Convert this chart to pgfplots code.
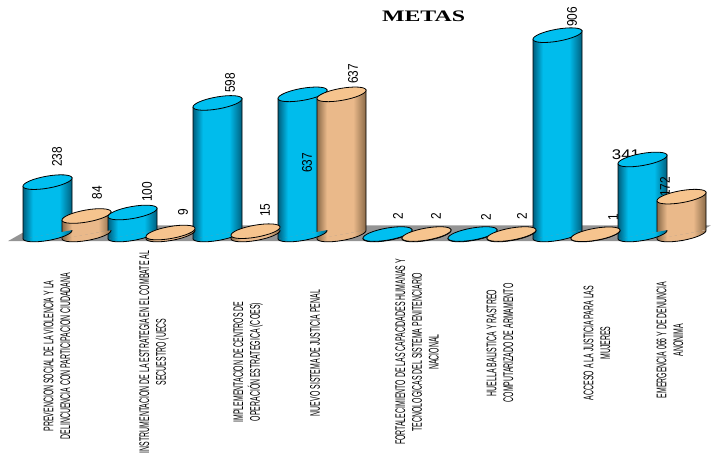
\documentclass[border=0pt]{standalone}
\usepackage{pgfplots}
\pgfplotsset{compat=1.18}
\usepackage{fontspec}
\setmainfont{Liberation Sans}
\newfontfamily\lblfont[FakeStretch=0.495]{Liberation Sans}
\newfontfamily\valfont[FakeStretch=0.85]{Liberation Sans}
\newfontfamily\widefont[FakeStretch=1.2]{Liberation Sans}
\newfontfamily\titlefont[FakeStretch=1.49]{Liberation Serif}

\definecolor{cylblue}{HTML}{00BCEC}
\definecolor{cylbluedk}{HTML}{005F7E}
\definecolor{cyltan}{HTML}{EAB98A}
\definecolor{cyltandk}{HTML}{8A6A48}
\definecolor{topblue}{HTML}{00BFF0}
\definecolor{toptan}{HTML}{F6C48E}

% stops 25..75 cover the path's box
\pgfdeclarehorizontalshading{bodyblue}{100bp}{color(0bp)=(cylbluedk); color(25bp)=(cylbluedk); color(35bp)=(cylblue); color(62bp)=(cylblue); color(75bp)=(cylbluedk); color(100bp)=(cylbluedk)}
\pgfdeclarehorizontalshading{bodytan}{100bp}{color(0bp)=(cyltandk); color(25bp)=(cyltandk); color(35bp)=(cyltan); color(62bp)=(cyltan); color(75bp)=(cyltandk); color(100bp)=(cyltandk)}

% tilted ends of a cylinder: whole top, lower half at the foot
\pgfdeclareplotmark{cylend}{%
  \pgftransformrotate{10}%
  \pgfpathellipse{\pgfpointorigin}{\pgfqpoint{24.9pt}{0pt}}{\pgfqpoint{0pt}{6pt}}%
  \pgfusepathqfillstroke}
\newcommand{\footmark}[2]{%
  \pgfdeclareplotmark{#1}{%
    \pgftransformrotate{10}%
    \pgfpathmoveto{\pgfqpoint{-24.9pt}{0pt}}%
    \pgfpatharc{180}{360}{24.9pt and 6pt}%
    \pgfshadepath{#2}{0}%
    \pgfusepath{stroke}}}
\footmark{footblue}{bodyblue}
\footmark{foottan}{bodytan}

% left edge, value, body shading, foot mark, top colour
\newcommand{\cyl}[5]{%
  \pgfmathsetmacro\xc{#1+24.5}%
  \pgfmathsetmacro\xr{#1+49}%
  \pgfmathsetmacro\yl{#2-20.5}%
  \pgfmathsetmacro\yr{#2+20.5}%
  \addplot[no markers, draw=black, line width=0.8pt, shade, shading=#3] coordinates {(#1,-20.5) (#1,\yl) (\xr,\yr) (\xr,20.5)};
  \addplot[only marks, mark=#4, mark options={draw=black, line width=0.8pt}] coordinates {(\xc,0)};
  \addplot[only marks, mark=cylend, mark options={draw=black, fill=#5, line width=0.8pt}] coordinates {(\xc,#2)};
}
\newcommand{\bcyl}[2]{\cyl{#1}{#2}{bodyblue}{footblue}{topblue}}
\newcommand{\tcyl}[2]{\cyl{#1}{#2}{bodytan}{foottan}{toptan}}

\begin{document}
\begin{tikzpicture}
\path[use as bounding box] (0,0) rectangle (711pt,455pt);
\begin{axis}[
    at={(0,0)}, anchor=south west,
    scale only axis,
    width=711pt, height=455pt,
    xmin=0, xmax=711,
    ymin=-1002.3, ymax=1065.9,
    hide axis,
    clip=false,
    every node/.append style={inner sep=0pt},
  ]
  % floor
  \addplot[no markers, draw=none, fill=black!42] coordinates {(8,-30) (683,-30) (711,42) (36,42)} --cycle;

  \bcyl{23}{238}
  \tcyl{62}{84}
  \bcyl{108}{100}
  \tcyl{146}{9}
  \bcyl{193}{598}
  \tcyl{231}{15}
  \bcyl{278}{637}
  \tcyl{317}{637}
  \bcyl{363}{2}
  \tcyl{402}{2}
  \bcyl{448}{2}
  \tcyl{487}{2}
  \bcyl{533}{906}
  \tcyl{571}{1}
  \bcyl{618}{341}
  \tcyl{657}{172}

  % y of a node = (234.5 - pixel row) / 0.22
  \node[font=\titlefont\bfseries\fontsize{16}{18}\selectfont] at (axis cs:423.5,993) {METAS};

  \begin{scope}[every node/.append style={rotate=90, font=\valfont\fontsize{14}{16}\selectfont}]
    \node at (axis cs:57,352) {238};
    \node at (axis cs:97,189) {84};
    \node at (axis cs:147,193) {100};
    \node at (axis cs:183,102) {9};
    \node at (axis cs:230,689) {598};
    \node at (axis cs:265,111) {15};
    \node at (axis cs:307,325) {637};
    \node at (axis cs:353,730) {637};
    \node at (axis cs:398,84) {2};
    \node at (axis cs:436,84) {2};
    \node at (axis cs:486,79) {2};
    \node at (axis cs:522,84) {2};
    \node at (axis cs:572,989) {906};
    \node at (axis cs:613,79) {1};
    \node at (axis cs:665,216) {172};
  \end{scope}
  \node[font=\widefont\fontsize{14}{16}\selectfont] at (axis cs:626,361) {341};

  \begin{scope}[every node/.append style={rotate=90, align=center, font=\lblfont\fontsize{14}{16.8}\selectfont}]
    \node at (axis cs:57,-552) {PREVENCION SOCIAL DE LA VIOLENCIA Y LA\\DELINCUENCIA CON PARTICIPACION CIUDADANA};
    \node at (axis cs:154,-534) {INSTRUMENTACION DE LA ESTRATEGIA EN EL COMBATE AL\\SECUESTRO (UECS};
    \node at (axis cs:248,-580) {IMPLEMENTACION DE CENTROS DE\\OPERACIÓN ESTRATEGICA (COES)};
    \node at (axis cs:315,-539) {NUEVO SISTEMA DE JUSTICIA PENAL};
    \node at (axis cs:417,-534) {FORTALECIMIENTO DE LAS CAPACIDADES HUMANAS Y\\TECNOLOGICAS DEL SISTEMA PENITENCIARIO\\NACIONAL};
    \node at (axis cs:500,-493) {HUELLA BALISTICA Y RASTREO\\COMPUTARIZADO DE ARMAMENTO};
    \node at (axis cs:597,-493) {ACCESO A LA JUSTICIA PARA LAS\\MUJERES};
    \node at (axis cs:670,-480) {EMERGENCIA 066 Y DE DENUNCIA\\ANONIMA};
  \end{scope}
\end{axis}
\end{tikzpicture}
\end{document}
